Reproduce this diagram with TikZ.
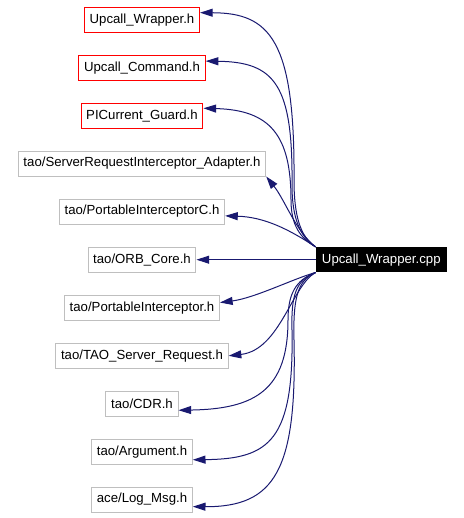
\documentclass[tikz,border=0pt]{standalone}
\usepackage{fontspec}
\setmainfont{Liberation Sans}
\usepackage{tikz}
\usetikzlibrary{arrows.meta,shapes}
\definecolor{incblue}{HTML}{191970}
\definecolor{extgray}{HTML}{BFBFBF}
\tikzstyle{localheader}=[rectangle,draw=red,line width=0.75pt,minimum height=18.75pt,inner xsep=3.9pt,inner ysep=1pt,font=\fontsize{9.9}{12}\selectfont]
\tikzstyle{header}=[rectangle,draw=extgray,line width=0.75pt,minimum height=18.75pt,inner xsep=3.9pt,inner ysep=1pt,font=\fontsize{9.9}{12}\selectfont]
\tikzstyle{source}=[rectangle,fill=black,text=white,minimum height=18.75pt,minimum width=98pt,inner sep=1pt,font=\fontsize{9.9}{12}\selectfont]
\tikzstyle{include} = [draw=incblue,line width=0.75pt,-{Triangle[length=9.5pt,width=6pt]}]

\begin{document}
\begin{tikzpicture}[x=0.75pt,y=-0.75pt]
    \useasboundingbox (0,0) rectangle (464,518);
    % Draw the include graph
    % First we draw the files
    \node[source] (cpp) at (381.3,259.7) {Upcall\_Wrapper.cpp};
    \foreach \y/\name/\txt in {19.8/wrapper/Upcall\_Wrapper.h, 67.8/command/Upcall\_Command.h, 115.8/guard/PICurrent\_Guard.h}
        \node[localheader] (\name) at (142,\y) {\txt};
    \foreach \y/\name/\txt in {163.5/adapter/{tao/ServerRequestInterceptor\_Adapter.h}, 211.5/pic/{tao/PortableInterceptorC.h},
        259.7/orbcore/{tao/ORB\_Core.h}, 308/pi/{tao/PortableInterceptor.h}, 355.8/request/{tao/TAO\_Server\_Request.h},
        403.8/cdr/{tao/CDR.h}, 451.7/argument/{tao/Argument.h}, 499.5/logmsg/{ace/Log\_Msg.h}}
        \node[header] (\name) at (142,\y) {\txt};
    % Connect the source with its headers
    \path[include] (cpp.north west) .. controls (300,237) and (294,215) .. (294,180) .. controls (295,40) and (270,13) .. (wrapper.7);
    \path[include] (cpp.north west) .. controls (300,237) and (292,218) .. (292,185) .. controls (293,85) and (275,62) .. (command.6);
    \path[include] (cpp.north west) .. controls (300,238) and (291,225) .. (291,200) .. controls (291,135) and (270,110) .. (guard.7);
    \path[include] (cpp.north west) .. controls (296,232) and (285,200) .. (adapter.south east);
    \path[include] (cpp.north west) .. controls (290,230) and (265,217) .. (pic.-3);
    \path[include] (cpp.west) -- (orbcore.east);
    \path[include] (cpp.south west) .. controls (295,278) and (255,298) .. (pi.4);
    \path[include] (cpp.south west) .. controls (292,285) and (280,350) .. (request.east);
    \path[include] (cpp.south west) .. controls (295,280) and (288,295) .. (288,320) .. controls (288,390) and (255,409) .. (cdr.-10);
    \path[include] (cpp.south west) .. controls (296,280) and (291,295) .. (292,330) .. controls (294,440) and (270,459) .. (argument.-9);
    \path[include] (cpp.south west) .. controls (297,280) and (293,300) .. (294,340) .. controls (297,470) and (275,507) .. (logmsg.-8);
\end{tikzpicture}
\end{document}
